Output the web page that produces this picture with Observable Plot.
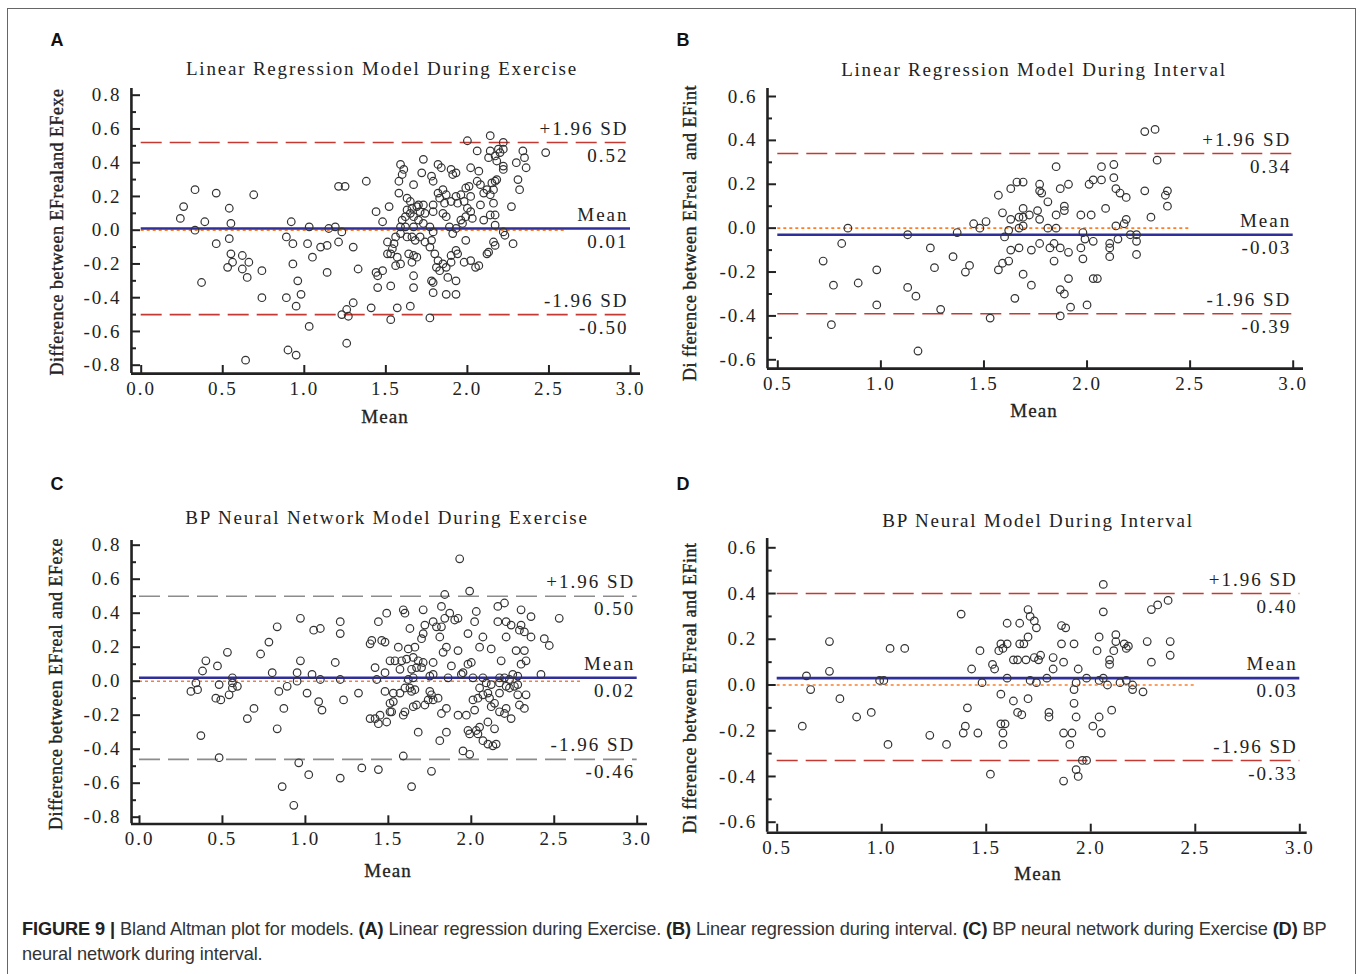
<!DOCTYPE html>
<html><head><meta charset="utf-8">
<script src="https://cdn.jsdelivr.net/npm/d3@7"></script>
<script src="https://cdn.jsdelivr.net/npm/@observablehq/plot@0.6"></script>
<style>
body{margin:0;background:#fff;}
#fig{position:relative;width:1360px;height:974px;overflow:hidden;background:#fff;}
.abs{position:absolute;white-space:pre;}
.ctr{transform:translate(-50%,-50%);}
.serif{font-family:'Liberation Serif','Times New Roman',serif;color:#222;}
.title{font-size:19px;letter-spacing:1.8px;}
.ylab{font-size:18px;letter-spacing:0.5px;-webkit-text-stroke:0.35px #222;}
.xlab{font-size:19px;letter-spacing:1px;-webkit-text-stroke:0.3px #222;}
.letter{font-family:'Liberation Sans',Arial,sans-serif;font-weight:bold;font-size:18px;color:#111;}
.cap{font-family:'Liberation Sans',Arial,sans-serif;font-size:18.2px;color:#333;line-height:25px;letter-spacing:-0.1px;}
.cap b{color:#222;}
</style>
</head><body>
<div id="fig">
<div class="abs" style="left:7px;top:8px;width:1347px;height:1010px;border:1px solid #666;"></div>
</div>
<script>
// ---------- Panel A: Linear Regression Model During Exercise ----------
const aTitle = "Linear Regression Model During Exercise";
const aYLabel = "Difference between EFrealand EFexe";
const aMean = [0.33,0.46,0.69,0.26,0.24,0.39,0.54,0.55,0.33,0.46,0.54,0.55,0.62,0.56,0.53,0.66,0.62,0.65,0.37,0.74,
0.92,0.89,0.93,1.02,1.03,1.05,0.93,0.96,0.98,0.89,0.95,0.74,1.03,0.90,0.95,0.64,1.21,1.25,1.38,1.10,
1.14,1.21,1.30,1.15,1.19,1.23,1.14,1.33,1.44,1.48,1.52,1.51,1.51,1.48,1.44,1.45,1.45,1.30,1.26,1.23,
1.27,1.41,1.26,1.53,1.53,
2.14,2.00,2.22,2.06,2.14,2.19,2.20,2.22,2.17,2.13,2.34,2.35,2.30,2.36,2.48,2.22,2.18,2.22,1.59,1.61,
1.60,1.73,1.72,1.78,1.82,1.84,1.90,1.91,1.93,2.02,2.07,1.79,1.67,1.58,1.63,1.65,1.70,1.73,1.82,1.85,
1.87,1.90,1.86,1.79,1.83,1.93,1.96,1.99,2.01,2.06,2.08,2.10,2.12,2.16,2.14,2.17,2.18,2.15,2.16,2.08,
2.02,1.98,1.94,2.00,2.02,1.99,1.96,1.89,1.93,1.91,1.97,2.03,2.10,2.17,2.17,2.27,2.31,2.32,2.14,2.22,
2.23,2.28,2.16,2.17,2.13,2.12,1.99,1.94,1.98,2.02,2.07,2.05,1.93,1.90,1.90,1.87,1.85,1.82,1.81,1.80,
1.77,1.78,1.74,1.71,1.68,1.66,1.63,1.59,1.56,1.55,1.54,1.53,1.57,1.64,1.67,1.69,1.66,1.59,1.56,1.67,
1.67,1.78,1.79,1.79,1.87,1.88,1.93,1.83,1.93,1.79,1.77,1.73,1.70,1.67,1.65,1.62,1.60,1.59,1.62,1.67,
1.63,1.66,1.69,1.71,1.74,1.79,1.85,1.87,1.58,1.57,1.65,1.77];
const aDiff = [0.24,0.22,0.21,0.14,0.07,0.05,0.13,0.04,0.00,-0.08,-0.05,-0.14,-0.15,-0.19,-0.22,-0.19,-0.23,-0.28,-0.31,-0.24,
0.05,-0.04,-0.08,-0.08,0.02,-0.16,-0.20,-0.30,-0.38,-0.40,-0.45,-0.40,-0.57,-0.71,-0.74,-0.77,0.26,0.26,0.29,-0.10,
-0.09,-0.07,-0.10,0.01,0.02,-0.01,-0.25,-0.23,0.11,0.05,0.14,-0.07,-0.14,-0.24,-0.25,-0.27,-0.34,-0.43,-0.47,-0.50,
-0.51,-0.46,-0.67,-0.33,-0.53,
0.56,0.53,0.52,0.47,0.47,0.48,0.46,0.48,0.44,0.43,0.47,0.43,0.40,0.37,0.46,0.38,0.41,0.36,0.39,0.36,
0.33,0.42,0.34,0.32,0.39,0.37,0.36,0.33,0.34,0.37,0.35,0.29,0.27,0.22,0.19,0.17,0.15,0.15,0.22,0.24,
0.21,0.17,0.16,0.15,0.19,0.20,0.21,0.25,0.26,0.29,0.27,0.22,0.24,0.24,0.21,0.29,0.30,0.28,0.16,0.15,
0.20,0.17,0.16,0.13,0.11,0.08,0.06,0.02,0.01,-0.02,0.04,0.07,0.06,0.09,0.03,0.14,0.30,0.24,0.09,-0.01,
-0.03,-0.08,-0.07,-0.09,-0.13,-0.14,-0.06,-0.14,-0.19,-0.18,-0.21,-0.22,-0.12,-0.15,-0.19,-0.22,-0.20,-0.18,-0.22,-0.14,
-0.10,-0.06,-0.07,-0.04,-0.06,-0.04,-0.04,-0.02,-0.04,-0.08,-0.11,-0.14,-0.16,-0.14,-0.15,-0.16,-0.19,-0.20,-0.21,-0.27,
-0.34,-0.30,-0.31,-0.37,-0.38,-0.28,-0.30,-0.24,-0.38,-0.01,0.02,0.04,0.06,0.08,0.10,0.08,0.06,0.02,0.02,0.02,
0.12,0.13,0.14,0.11,0.10,0.11,0.10,0.08,0.29,-0.46,-0.45,-0.52];
const aLines = [0.52, 0.01, -0.50];
const aLineText = ["0.52", "0.01", "-0.50"];
const aZeroEnd = 2.61;
const aXTicks = [0, 0.5, 1, 1.5, 2, 2.5, 3];
const aYTicks = [-0.8, -0.6, -0.4, -0.2, 0, 0.2, 0.4, 0.6, 0.8];
const aYMinor = [-0.7, -0.5, -0.3, -0.1, 0.1, 0.3, 0.5, 0.7];

// ---------- Panel B: Linear Regression Model During Interval ----------
const bTitle = "Linear Regression Model During Interval";
const bYLabel = "Di fference between EFreal  and EFint";
const bMean = [0.84,0.81,0.72,0.77,0.89,0.98,0.98,0.76,1.13,1.24,1.26,1.13,1.17,1.29,1.18,1.35,1.37,1.41,1.43,1.45,
1.48,1.51,1.53,1.57,1.59,1.60,1.62,1.63,1.63,1.67,1.59,1.62,1.57,1.65,1.69,1.63,1.66,1.69,1.69,1.67,
1.69,1.72,1.67,1.69,1.73,1.73,
2.28,2.33,2.34,1.85,2.07,2.13,1.77,1.77,1.78,1.87,1.91,2.01,2.03,2.07,2.13,2.14,2.16,2.19,2.28,2.39,
2.38,2.39,1.81,1.76,1.89,1.89,1.85,1.77,1.97,2.02,2.09,2.31,2.19,2.18,2.14,1.81,1.85,1.98,1.99,2.03,
2.15,2.21,2.24,2.24,2.11,2.11,1.77,1.82,1.84,1.87,1.91,1.97,1.98,1.84,2.11,2.24,1.91,2.03,2.05,1.87,
1.89,1.92,2.00,1.87];
const bDiff = [0.00,-0.07,-0.15,-0.26,-0.25,-0.19,-0.35,-0.44,-0.03,-0.09,-0.18,-0.27,-0.31,-0.37,-0.56,-0.13,-0.02,-0.20,-0.17,0.02,
0.00,0.03,-0.41,0.15,0.07,-0.04,-0.01,-0.10,0.04,-0.09,-0.16,-0.15,-0.19,-0.32,-0.21,0.18,0.21,0.21,0.09,0.05,
0.05,0.06,0.00,0.01,-0.10,-0.26,
0.44,0.45,0.31,0.28,0.28,0.29,0.20,0.17,0.16,0.18,0.20,0.20,0.22,0.22,0.23,0.18,0.16,0.14,0.17,0.17,
0.15,0.10,0.12,0.08,0.10,0.08,0.06,0.04,0.06,0.06,0.09,0.05,0.04,0.02,0.01,0.00,0.00,-0.02,-0.05,-0.06,
-0.05,-0.03,-0.03,-0.06,-0.07,-0.09,-0.07,-0.09,-0.07,-0.09,-0.11,-0.09,-0.14,-0.15,-0.13,-0.12,-0.23,-0.23,-0.23,-0.28,
-0.30,-0.36,-0.35,-0.40];
const bLines = [0.34, -0.03, -0.39];
const bLineText = ["0.34", "-0.03", "-0.39"];
const bZeroEnd = 2.5;
const bXTicks = [0.5, 1, 1.5, 2, 2.5, 3];
const bYTicks = [-0.6, -0.4, -0.2, 0, 0.2, 0.4, 0.6];
const bYMinor = [-0.5, -0.3, -0.1, 0.1, 0.3, 0.5];

// ---------- Panel C: BP Neural Network Model During Exercise ----------
const cTitle = "BP Neural Network Model During Exercise";
const cYLabel = "Difference between EFreal and EFexe";
const cMean = [0.40,0.38,0.53,0.47,0.34,0.31,0.35,0.48,0.56,0.56,0.59,0.56,0.54,0.46,0.49,0.69,0.65,0.37,0.48,0.83,
0.78,0.73,0.80,0.84,0.89,0.87,0.83,0.97,1.05,1.09,0.97,0.95,0.95,1.01,1.04,1.09,1.08,1.10,1.21,1.21,
1.18,1.21,1.23,1.32,0.96,1.02,0.86,0.93,1.21,1.34,1.44,1.44,1.49,1.40,1.39,1.46,1.48,1.42,1.43,1.48,
1.48,1.39,1.42,1.45,1.44,1.49,1.51,1.51,1.51,
1.93,1.84,1.99,1.59,1.60,1.71,1.82,1.87,1.84,1.90,1.92,2.03,2.02,2.16,2.20,2.30,2.36,2.53,2.16,2.21,
2.24,2.30,2.29,2.32,2.36,2.44,2.47,2.21,2.07,1.98,1.77,1.79,1.82,1.72,1.63,1.71,1.70,1.81,1.66,1.62,
1.56,1.85,1.83,1.92,2.05,2.12,2.27,2.32,2.33,2.30,2.18,2.00,1.98,1.88,1.77,1.71,1.68,1.67,1.70,1.65,
1.61,1.58,1.54,1.57,1.64,1.62,1.65,1.75,1.77,1.86,1.94,1.95,2.01,2.07,2.17,2.20,2.23,2.25,2.28,2.42,
2.09,2.12,2.17,2.21,2.26,2.28,2.23,2.05,1.63,1.60,1.66,1.64,1.57,1.53,1.75,1.76,1.77,1.80,1.74,1.72,
1.67,1.65,1.60,1.59,1.52,1.53,1.85,1.82,1.92,1.97,2.02,2.01,2.04,2.07,2.10,2.11,2.14,2.12,2.17,2.17,
2.21,2.20,2.24,2.28,2.33,2.29,2.32,1.68,1.85,1.81,1.98,1.99,2.03,2.04,2.05,2.10,2.14,2.07,2.10,2.13,
2.15,1.95,1.99,1.59,1.76,1.64];
const cDiff = [0.12,0.06,0.17,0.09,-0.01,-0.06,-0.05,-0.02,0.02,-0.01,-0.03,-0.04,-0.08,-0.10,-0.11,-0.16,-0.22,-0.32,-0.45,0.32,
0.23,0.16,0.05,-0.06,-0.03,-0.16,-0.28,0.37,0.30,0.31,0.12,0.05,0.00,-0.07,0.04,0.01,-0.12,-0.17,0.35,0.28,
0.11,0.01,-0.11,-0.07,-0.48,-0.55,-0.62,-0.73,-0.57,-0.51,-0.52,0.35,0.40,0.24,0.22,0.24,0.23,0.08,0.01,0.05,
-0.06,-0.22,-0.22,-0.20,-0.25,-0.24,-0.18,0.12,-0.13,
0.72,0.51,0.53,0.42,0.40,0.42,0.44,0.40,0.37,0.36,0.37,0.41,0.35,0.44,0.46,0.42,0.38,0.37,0.35,0.35,
0.33,0.33,0.30,0.29,0.26,0.25,0.21,0.26,0.26,0.28,0.35,0.32,0.32,0.33,0.31,0.28,0.25,0.26,0.20,0.19,
0.20,0.20,0.17,0.18,0.20,0.19,0.18,0.18,0.12,0.10,0.12,0.11,0.10,0.09,0.11,0.11,0.12,0.08,0.08,0.14,
0.13,0.12,0.12,0.07,0.07,0.01,0.02,0.03,0.04,0.02,0.04,0.05,0.02,0.02,0.02,0.02,0.01,0.04,0.03,0.04,
-0.01,-0.02,-0.01,-0.03,-0.03,-0.02,-0.04,-0.04,-0.04,-0.04,-0.05,-0.06,-0.07,-0.07,-0.06,-0.08,-0.11,-0.10,-0.11,-0.14,
-0.14,-0.15,-0.18,-0.20,-0.18,-0.12,-0.16,-0.19,-0.20,-0.20,-0.17,-0.11,-0.10,-0.08,-0.07,-0.10,-0.13,-0.15,-0.07,-0.18,
-0.16,-0.19,-0.22,-0.08,-0.08,-0.14,-0.16,-0.30,-0.30,-0.35,-0.29,-0.31,-0.29,-0.31,-0.27,-0.24,-0.28,-0.35,-0.37,-0.38,
-0.37,-0.41,-0.43,-0.44,-0.53,-0.62];
const cLines = [0.50, 0.02, -0.46];
const cLineText = ["0.50", "0.02", "-0.46"];
const cZeroEnd = 2.67;
const cXTicks = [0, 0.5, 1, 1.5, 2, 2.5, 3];
const cYTicks = [-0.8, -0.6, -0.4, -0.2, 0, 0.2, 0.4, 0.6, 0.8];
const cYMinor = [-0.7, -0.5, -0.3, -0.1, 0.1, 0.3, 0.5, 0.7];

// ---------- Panel D: BP Neural Model During Interval ----------
const dTitle = "BP Neural Model During Interval";
const dYLabel = "Di fference between EFreal and EFint";
const dMean = [0.64,0.66,0.62,0.75,0.75,0.80,0.88,0.95,0.99,1.01,1.04,1.11,1.03,1.23,1.31,1.38,1.43,1.47,1.48,1.41,
1.40,1.39,1.46,1.53,1.54,1.52,1.56,1.57,1.58,1.60,1.60,1.60,1.57,1.63,1.65,1.67,1.57,1.59,1.58,1.58,
1.63,1.65,1.66,1.68,1.69,1.66,1.70,1.71,1.70,1.71,1.70,
2.06,2.06,2.29,2.32,2.37,1.73,1.74,1.86,1.88,1.86,1.92,2.04,2.12,2.12,2.03,2.11,2.09,2.09,2.16,2.18,
2.17,2.27,2.38,2.38,2.29,1.73,1.76,1.75,1.82,1.87,1.94,1.82,1.79,1.74,1.98,2.04,2.06,2.08,2.14,2.17,
2.20,2.20,2.25,1.93,1.92,1.92,1.93,1.80,1.80,2.10,2.04,2.01,2.05,1.87,1.91,1.90,1.96,1.98,1.93,1.94,
1.87];
const dDiff = [0.04,-0.02,-0.18,0.19,0.06,-0.06,-0.14,-0.12,0.02,0.02,0.16,0.16,-0.26,-0.22,-0.26,0.31,0.07,0.15,0.01,-0.10,
-0.18,-0.21,-0.21,0.09,0.07,-0.39,0.15,0.18,0.16,0.18,0.27,0.03,-0.04,-0.07,-0.12,-0.13,-0.17,-0.17,-0.21,-0.26,
0.11,0.11,0.18,0.18,0.11,0.27,0.33,0.30,0.21,0.02,-0.06,
0.44,0.32,0.33,0.35,0.37,0.28,0.25,0.26,0.25,0.18,0.18,0.21,0.22,0.19,0.15,0.15,0.11,0.09,0.18,0.17,
0.16,0.19,0.19,0.13,0.10,0.12,0.13,0.11,0.12,0.10,0.07,0.07,0.03,0.01,0.03,0.02,0.03,0.00,0.01,0.02,
0.00,-0.02,-0.03,0.01,-0.02,-0.08,-0.14,-0.12,-0.14,-0.11,-0.14,-0.18,-0.21,-0.21,-0.21,-0.26,-0.33,-0.33,-0.37,-0.40,
-0.42];
const dLines = [0.40, 0.03, -0.33];
const dLineText = ["0.40", "0.03", "-0.33"];
const dZeroEnd = 2.5;
const dXTicks = [0.5, 1, 1.5, 2, 2.5, 3];
const dYTicks = [-0.6, -0.4, -0.2, 0, 0.2, 0.4, 0.6];
const dYMinor = [-0.5, -0.3, -0.1, 0.1, 0.3, 0.5];

const lineNames = ["+1.96 SD", "Mean", "-1.96 SD"];
const xLabel = "Mean";
const caption = '<b>FIGURE 9 |</b> Bland Altman plot for models. <b>(A)</b> Linear regression during Exercise. <b>(B)</b> Linear regression during interval. <b>(C)</b> BP neural network during Exercise <b>(D)</b> BP<br>neural network during interval.';

const serif = "'Liberation Serif','Times New Roman',serif";
const fig = document.getElementById("fig");
const fmt1 = d => d.toFixed(1);

function addText(html, cls, left, top, extra = "") {
  const el = document.createElement("div");
  el.className = "abs " + cls;
  el.style.cssText += `left:${left}px;top:${top}px;${extra}`;
  el.innerHTML = html;
  fig.appendChild(el);
  return el;
}

function panel(o) {
  const pts = o.mean.map((m, i) => ({m, d: o.diff[i]}));
  const refs = o.lines.map((v, i) => ({v, name: lineNames[i], val: o.lineText[i]}));
  const [xlo, xhi] = o.xd;
  const chart = Plot.plot({
    width: o.w, height: o.h,
    marginLeft: o.ml, marginRight: o.mr, marginTop: o.mt, marginBottom: o.mb,
    x: {domain: o.xd, range: o.xr},
    y: {domain: o.yd, range: o.yr},
    style: {fontFamily: serif, fontSize: "19px", color: "#222", background: "transparent", letterSpacing: "2px", overflow: "visible"},
    marks: [
      Plot.ruleY([o.lines[0], o.lines[2]], {x1: xlo, x2: xhi, stroke: o.sdColor, strokeWidth: 1.6, strokeDasharray: "21,8"}),
      Plot.ruleY([0], {x1: xlo, x2: o.zeroEnd, stroke: "#ff7f27", strokeWidth: 1.6, strokeDasharray: "3,3"}),
      Plot.ruleY([o.lines[1]], {x1: xlo, x2: xhi, stroke: "#2f2f9c", strokeWidth: 2.6}),
      Plot.dot(pts, {x: "m", y: "d", r: 3.8, stroke: "#333", strokeWidth: 1.2, fill: "none"}),
      Plot.text(refs, {x: xhi, y: "v", text: "name", textAnchor: "end", dx: -2, dy: -14, fontSize: 19}),
      Plot.text(refs, {x: xhi, y: "v", text: "val", textAnchor: "end", dx: -2, dy: 13, fontSize: 19}),
      Plot.ruleX([o.x0], {stroke: "#222", strokeWidth: 2.6}),
      Plot.ruleY([o.y0], {stroke: "#222", strokeWidth: 2.6}),
      Plot.axisY(o.yTicks, {tickSize: 9, dx: 9, tickFormat: () => "", strokeWidth: 2, label: null}),
      Plot.axisY(o.yMinor, {tickSize: 5, dx: 5, tickFormat: () => "", strokeWidth: 2, label: null}),
      Plot.axisY(o.yTicks, {tickSize: 0, tickPadding: 10, tickFormat: fmt1, label: null}),
      Plot.axisX(o.xTicks, {tickSize: 8, dy: -8, tickFormat: () => "", strokeWidth: 2, label: null}),
      Plot.axisX(o.xTicks, {tickSize: 0, tickPadding: 8, tickFormat: fmt1, label: null})
    ]
  });
  const holder = document.createElement("div");
  holder.className = "abs";
  holder.style.left = o.left + "px";
  holder.style.top = o.top + "px";
  holder.appendChild(chart);
  fig.appendChild(holder);

  addText(o.letter, "letter ctr", o.letterPos[0], o.letterPos[1]);
  addText(o.title, "serif title ctr", o.titlePos[0], o.titlePos[1]);
  addText(o.ylabel, "serif ylab", o.ylabPos[0], o.ylabPos[1], "transform:translate(-50%,-50%) rotate(-90deg);");
  addText(xLabel, "serif xlab ctr", o.xlabPos[0], o.xlabPos[1]);
}

panel({letter: "A", title: aTitle, ylabel: aYLabel, mean: aMean, diff: aDiff, lines: aLines, lineText: aLineText,
  zeroEnd: aZeroEnd, xTicks: aXTicks, yTicks: aYTicks, yMinor: aYMinor, sdColor: "#c43a32",
  left: 20, top: 80, w: 640, h: 330, ml: 111, mr: 20, mt: 8, mb: 37,
  xd: [0, 3], xr: [120.7, 610], yd: [-0.8, 0.8], yr: [284.7, 14.7], x0: -0.06, y0: -0.85,
  letterPos: [57, 40], titlePos: [382, 69], ylabPos: [57, 232], xlabPos: [385, 417]});

panel({letter: "B", title: bTitle, ylabel: bYLabel, mean: bMean, diff: bDiff, lines: bLines, lineText: bLineText,
  zeroEnd: bZeroEnd, xTicks: bXTicks, yTicks: bYTicks, yMinor: bYMinor, sdColor: "#c43a32",
  left: 680, top: 80, w: 640, h: 330, ml: 87, mr: 17, mt: 8, mb: 41.7,
  xd: [0.5, 3], xr: [97.3, 612.7], yd: [-0.6, 0.6], yr: [279.3, 16], x0: 0.45, y0: -0.64,
  letterPos: [683, 40], titlePos: [1034, 70], ylabPos: [690, 233], xlabPos: [1034, 411]});

panel({letter: "C", title: cTitle, ylabel: cYLabel, mean: cMean, diff: cDiff, lines: cLines, lineText: cLineText,
  zeroEnd: cZeroEnd, xTicks: cXTicks, yTicks: cYTicks, yMinor: cYMinor, sdColor: "#8c8c8c",
  left: 20, top: 530, w: 640, h: 330, ml: 111, mr: 13, mt: 10, mb: 36.7,
  xd: [0, 3], xr: [119, 616.7], yd: [-0.8, 0.8], yr: [286.7, 14.7], x0: -0.048, y0: -0.84,
  letterPos: [57, 484], titlePos: [387, 518], ylabPos: [56, 684], xlabPos: [388, 871]});

panel({letter: "D", title: dTitle, ylabel: dYLabel, mean: dMean, diff: dDiff, lines: dLines, lineText: dLineText,
  zeroEnd: dZeroEnd, xTicks: dXTicks, yTicks: dYTicks, yMinor: dYMinor, sdColor: "#c43a32",
  left: 680, top: 530, w: 640, h: 340, ml: 86.7, mr: 13.3, mt: 8, mb: 38.3,
  xd: [0.5, 3], xr: [96.7, 619.3], yd: [-0.6, 0.6], yr: [291.7, 17.3], x0: 0.452, y0: -0.646,
  letterPos: [683, 484], titlePos: [1038, 521], ylabPos: [690, 688], xlabPos: [1038, 874]});

addText(caption, "cap", 22, 917, "white-space:nowrap;");
</script>
</body></html>
